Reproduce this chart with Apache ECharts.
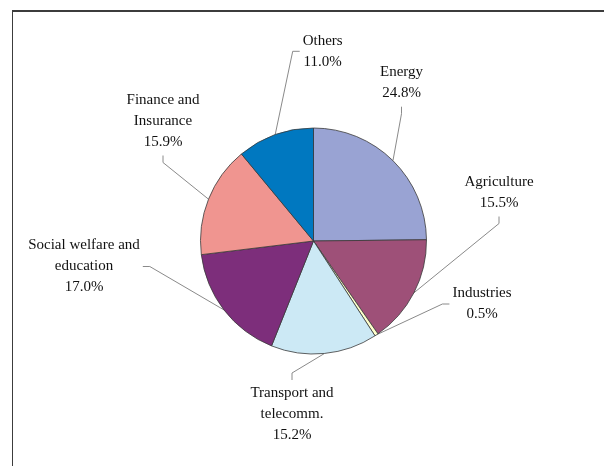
<!DOCTYPE html>
<html>
<head>
<meta charset="utf-8">
<title>Investment by sector</title>
<script src="https://cdn.jsdelivr.net/npm/echarts@6/dist/echarts.min.js"></script>
<style>
  html, body { margin: 0; padding: 0; background: #ffffff; }
  #chart { width: 604px; height: 466px; }
</style>
</head>
<body>
<div id="chart"></div>
<script>
// Sector names (line breaks as they appear in the labels) and their shares in percent
const categories = [
  'Energy',
  'Agriculture',
  'Industries',
  'Transport and\ntelecomm.',
  'Social welfare and\neducation',
  'Finance and\nInsurance',
  'Others'
];
const shares = [24.8, 15.5, 0.5, 15.2, 17.0, 15.9, 11.0];

// Slice fill colours, in the same order as the sectors
const sliceColors = ['#99A3D3', '#9E5078', '#FFFFCC', '#CCE9F5', '#7D2E7B', '#F09590', '#0078C0'];

// Label block centres and the side of each block that the leader line attaches to
const labelCentres = [
  [401.5, 82.7], [499, 192.5], [482, 304], [292, 414.5],
  [84, 266.5], [163, 121], [322.7, 51.3]
];
const leaderSides = ['bottom', 'bottom', 'left', 'top', 'right', 'bottom', 'left'];
const TICK = 7;

const chart = echarts.init(document.getElementById('chart'), null, { renderer: 'canvas' });

chart.setOption({
  backgroundColor: '#ffffff',
  animation: false,
  graphic: [
    { type: 'line', shape: { x1: 12, y1: 11, x2: 620, y2: 11 }, style: { stroke: '#3c3c3c', lineWidth: 2 } },
    { type: 'line', shape: { x1: 12.5, y1: 11, x2: 12.5, y2: 480 }, style: { stroke: '#3c3c3c', lineWidth: 1 } }
  ],
  series: [{
    type: 'pie',
    center: [313.5, 241],
    radius: 113,
    startAngle: 90,
    clockwise: true,
    avoidLabelOverlap: false,
    itemStyle: { borderColor: '#3a3a3a', borderWidth: 0.8 },
    label: {
      show: true,
      position: 'outside',
      fontFamily: '"Liberation Serif", "DejaVu Serif", serif',
      fontSize: 15,
      lineHeight: 21,
      color: '#111111',
      align: 'center',
      padding: 3,
      formatter: p => p.name + '\n' + p.value.toFixed(1) + '%'
    },
    labelLine: {
      show: true,
      length: 10,
      length2: 7,
      lineStyle: { color: '#8a8a8a', width: 1 }
    },
    labelLayout: function (p) {
      const i = p.dataIndex;
      const cx = labelCentres[i][0];
      const cy = labelCentres[i][1];
      const w = p.labelRect.width;
      const h = p.labelRect.height;
      let edge, tick;
      switch (leaderSides[i]) {
        case 'left':  edge = [cx - w / 2, cy]; tick = [edge[0] - TICK, cy]; break;
        case 'right': edge = [cx + w / 2, cy]; tick = [edge[0] + TICK, cy]; break;
        case 'top':   edge = [cx, cy - h / 2]; tick = [cx, edge[1] - TICK]; break;
        default:      edge = [cx, cy + h / 2]; tick = [cx, edge[1] + TICK]; break;
      }
      const anchor = p.labelLinePoints ? p.labelLinePoints[0] : tick;
      return {
        x: cx,
        y: cy,
        align: 'center',
        verticalAlign: 'middle',
        labelLinePoints: [anchor, tick, edge]
      };
    },
    data: categories.map((name, i) => ({
      name: name,
      value: shares[i],
      itemStyle: { color: sliceColors[i] }
    }))
  }]
});
</script>
</body>
</html>
